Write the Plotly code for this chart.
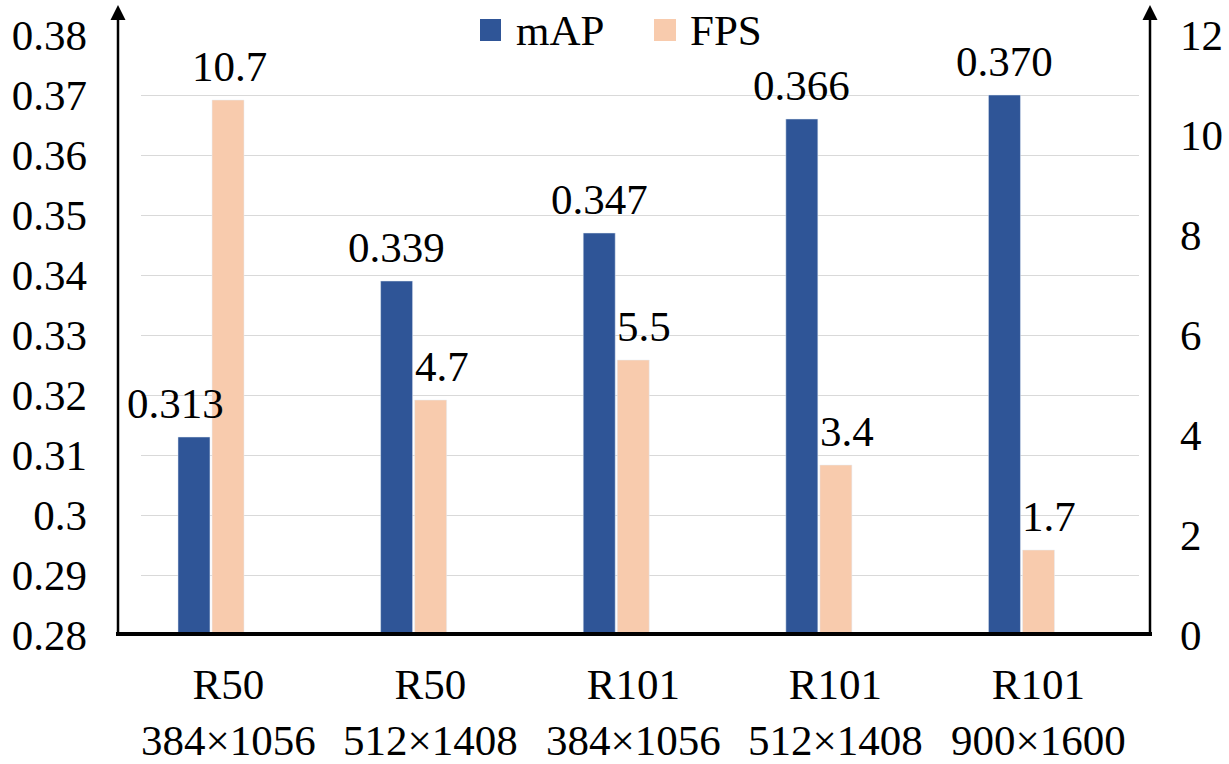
import plotly.graph_objects as go

# data
categories = ["R50<br>384×1056", "R50<br>512×1408", "R101<br>384×1056",
              "R101<br>512×1408", "R101<br>900×1600"]
map_values = [0.313, 0.339, 0.347, 0.366, 0.370]
fps_values = [10.7, 4.7, 5.5, 3.4, 1.7]
left_ticks = [0.28, 0.29, 0.30, 0.31, 0.32, 0.33, 0.34, 0.35, 0.36, 0.37, 0.38]
left_ticktext = ["0.28", "0.29", "0.3", "0.31", "0.32", "0.33", "0.34",
                 "0.35", "0.36", "0.37", "0.38"]
right_ticks = [0, 2, 4, 6, 8, 10, 12]

BLUE = "#2F5597"
PEACH = "#F8CBAD"
FONT = "Liberation Serif, Times New Roman, serif"
FS = 43

# plot area in pixels (for placing legend / axis arrows)
L, R, T, B = 141, 1139, 35, 635


def px(p):
    return (p - L) / (R - L)


def py(p):
    return (B - p) / (B - T)


fig = go.Figure()
fig.add_trace(go.Bar(x=categories, y=map_values, name="mAP", marker_color=BLUE,
                     yaxis="y", offsetgroup="0", showlegend=False))
fig.add_trace(go.Bar(x=categories, y=fps_values, name="FPS", marker_color=PEACH,
                     yaxis="y2", offsetgroup="1", showlegend=False))

annotations = []
# value labels
map_shift = [-36, -17, -17, -17, -17]
fps_shift = [18, 28, 28, 28, 28]
for c, v, s in zip(categories, map_values, map_shift):
    annotations.append(dict(x=c, y=v, xref="x", yref="y", text=f"{v:.3f}",
                            showarrow=False, yanchor="bottom", xshift=s, yshift=8,
                            font=dict(family=FONT, size=FS, color="black")))
for c, v, s in zip(categories, fps_values, fps_shift):
    annotations.append(dict(x=c, y=v, xref="x", yref="y2",
                            text=f"{v:.1f}", showarrow=False, yanchor="bottom",
                            xshift=s, yshift=8,
                            font=dict(family=FONT, size=FS, color="black")))

# category labels (slightly right of the bar groups, as in the original)
for c in categories:
    annotations.append(dict(x=c, y=0, xref="x", yref="paper", text=c,
                            showarrow=False, yanchor="top", xshift=17, yshift=-24,
                            font=dict(family=FONT, size=FS, color="black")))

# axis arrows
for xa in (px(118), px(1150)):
    annotations.append(dict(x=xa, y=py(5), xref="paper", yref="paper",
                            ax=0, ay=629, axref="pixel", ayref="pixel",
                            text="", showarrow=True, arrowhead=2, arrowsize=1.2,
                            arrowwidth=2.5, arrowcolor="black"))

# legend
annotations.append(dict(x=px(514), y=py(30), xref="paper", yref="paper", text="mAP",
                        showarrow=False, xanchor="left", yanchor="middle",
                        font=dict(family=FONT, size=FS, color="black")))
annotations.append(dict(x=px(688), y=py(30), xref="paper", yref="paper", text="FPS",
                        showarrow=False, xanchor="left", yanchor="middle",
                        font=dict(family=FONT, size=FS, color="black")))

shapes = [
    dict(type="rect", xref="paper", yref="paper", x0=px(480), x1=px(501),
         y0=py(41), y1=py(19), fillcolor=BLUE, line=dict(width=0)),
    dict(type="rect", xref="paper", yref="paper", x0=px(654), x1=px(676),
         y0=py(41), y1=py(19), fillcolor=PEACH, line=dict(width=0)),
    dict(type="line", xref="paper", yref="paper", x0=px(116), x1=px(1152),
         y0=py(634), y1=py(634), line=dict(color="black", width=4)),
]

fig.update_layout(
    width=1229, height=764,
    margin=dict(l=L, r=1229 - R, t=T, b=764 - B),
    paper_bgcolor="white", plot_bgcolor="white",
    barmode="group", bargap=0.664, bargroupgap=0.06,
    font=dict(family=FONT, size=FS, color="black"),
    annotations=annotations, shapes=shapes,
    xaxis=dict(range=[-0.3455, 4.58], showgrid=False, showline=False, ticks="",
               showticklabels=False, automargin=False),
    yaxis=dict(range=[0.28, 0.38], tickvals=left_ticks, ticktext=left_ticktext,
               showgrid=True, gridcolor="#D9D9D9", gridwidth=1, zeroline=False,
               showline=False, ticks="", ticklabelstandoff=53, automargin=False,
               tickfont=dict(family=FONT, size=FS)),
    yaxis2=dict(range=[0, 12], tickvals=right_ticks, overlaying="y", side="right",
                showgrid=False, zeroline=False, showline=False, ticks="",
                ticklabelstandoff=40, automargin=False,
                tickfont=dict(family=FONT, size=FS)),
)

fig.write_html("out.html", config={"displayModeBar": False},
               post_script="document.body.style.margin='0';"
                           "document.body.style.overflow='hidden';")
